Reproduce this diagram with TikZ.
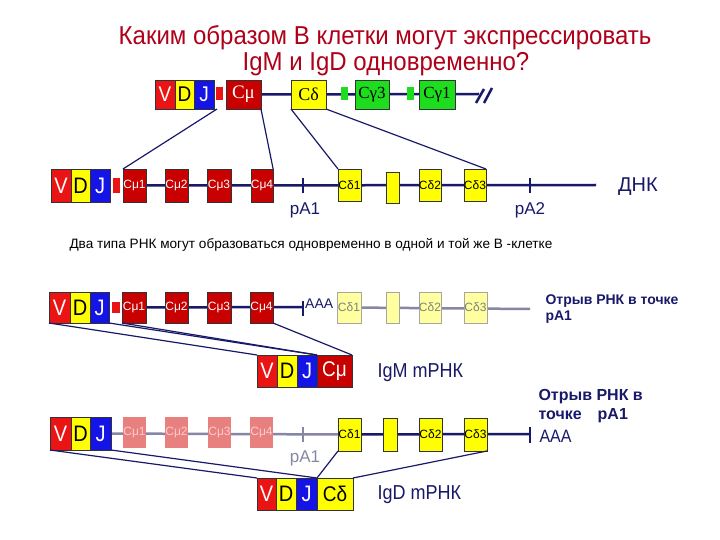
\documentclass[tikz,border=0pt]{standalone}
\usepackage{fontspec}
\setmainfont{Liberation Sans}
\newfontfamily\seriffam{Liberation Serif}
\usetikzlibrary{backgrounds}
\newcommand\myfs[1]{\fontsize{#1}{#1}\selectfont}
\newcommand\tall[1]{\scalebox{1}[1.12]{#1}}
\definecolor{navy}{RGB}{25,25,105}
\definecolor{vred}{RGB}{235,20,20}
\definecolor{cred}{RGB}{200,0,0}
\definecolor{yel}{RGB}{255,255,0}
\definecolor{blu}{RGB}{20,20,230}
\definecolor{grn}{RGB}{30,220,30}
\definecolor{titlered}{RGB}{175,0,25}
\definecolor{lyel}{RGB}{255,255,160}
\definecolor{fred}{RGB}{232,128,128}
\definecolor{gline}{RGB}{135,135,165}
\tikzset{
  bx/.style={draw=black!80, line width=0.5pt, inner sep=0pt, outer sep=0pt},
  sz/.style 2 args={minimum width=#1, minimum height=#2},
  vbox/.style={bx, fill=vred, text=white},
  dbox/.style={bx, fill=yel, text=black},
  jbox/.style={bx, fill=blu, text=white},
  cbox/.style={bx, fill=cred, text=white},
  gbox/.style={bx, fill=grn, text=black},
  lybox/.style={bx, fill=lyel, draw=black!35, text=black!50},
  fbox/.style={bx, fill=fred, draw=none, text=red!20},
  sqbox/.style={bx, draw=none},
  dna/.style={navy, line width=2.5pt},
  gdna/.style={gline, line width=2.5pt},
  tickl/.style={navy, line width=2.8pt},
  gtick/.style={gline, line width=2.5pt},
  conn/.style={navy, line width=1.2pt},
  small/.style={font=\myfs{12}},
  vdj/.style={font=\myfs{20}},
  lbl/.style={text=navy},
}
\begin{document}
\begin{tikzpicture}[x=1pt,y=-1pt]
\useasboundingbox (0,0) rectangle (720,540);

% Title
\node[font=\myfs{24}, text=titlered] (title1) at (385,38) {\scalebox{1}[1.08]{Каким образом В клетки могут экспрессировать}};
\node[font=\myfs{24}, text=titlered] (title2) at (386,64) {\scalebox{1}[1.08]{IgM и IgD одновременно?}};

% Row 1 (germline heavy chain)
\node[vbox, sz={20}{29}, font=\myfs{19}] (tV) at (165,94.5) {\tall{V}};
\node[dbox, sz={19}{29}, font=\myfs{19}] (tD) at (184.5,94.5) {\tall{D}};
\node[jbox, sz={20}{29}, font=\myfs{19}] (tJ) at (204,94.5) {\tall{J}};
\node[sqbox, fill=vred, sz={7}{13}] (tsq) at (219.5,93.5) {};
\node[cbox, sz={35}{29}, font=\seriffam\myfs{19}] (tCm) at (243.5,94.5) {Cμ};
\node[dbox, sz={35}{29}, font=\seriffam\myfs{18}] (tCd) at (308.5,94.5) {Cδ};
\node[sqbox, fill=grn, sz={7}{13}] (tg1) at (344.5,94) {};
\node[gbox, sz={34}{29}, font=\seriffam\myfs{17}] (tCg3) at (372,94.5) {Cγ3};
\node[sqbox, fill=grn, sz={7}{13}] (tg2) at (410.5,94) {};
\node[gbox, sz={36}{29}, font=\seriffam\myfs{17}] (tCg1) at (437,94.5) {Cγ1};
\coordinate (tend) at (479,94);
\draw[navy, line width=2.5pt] (476,103) -- (484,89) (484,103) -- (492,88);

% Row 2 (DNA)
\node[vbox, sz={20}{33}, vdj] (dV) at (61,185.5) {\tall{V}};
\node[dbox, sz={19}{33}, vdj] (dD) at (80.5,185.5) {\tall{D}};
\node[jbox, sz={20}{33}, vdj] (dJ) at (100,185.5) {\tall{J}};
\node[sqbox, fill=vred, sz={7}{15}] (dsq) at (116.5,185.5) {};
\node[cbox, sz={23}{33}, small] (dCm1) at (134.5,185.5) {Cμ1};
\node[cbox, sz={23}{33}, small] (dCm2) at (176.5,185.5) {Cμ2};
\node[cbox, sz={24}{33}, small] (dCm3) at (219,185.5) {Cμ3};
\node[cbox, sz={22}{33}, small] (dCm4) at (262,185.5) {Cμ4};
\coordinate (dp1t) at (303,178);
\coordinate (dp1b) at (303,193);
\node[lbl, font=\myfs{17}] (dpA1) at (305,210) {pA1};
\node[dbox, sz={23}{32}, small] (dCd1) at (349.5,185) {Cδ1};
\node[dbox, sz={13}{31}] (dX) at (392.5,187.5) {};
\node[dbox, sz={22}{32}, small] (dCd2) at (430,185) {Cδ2};
\node[dbox, sz={22}{32}, small] (dCd3) at (475,185) {Cδ3};
\coordinate (dp2t) at (530,178);
\coordinate (dp2b) at (530,193);
\node[lbl, font=\myfs{17}] (dpA2) at (530,210) {pA2};
\coordinate (dend) at (596,185);
\node[lbl, font=\myfs{20}] (dnk) at (638,187) {ДНК};
\draw[tickl] (dp1t) -- (dp1b);
\draw[tickl] (dp2t) -- (dp2b);

% connectors row1 -> row2
\draw[conn] ([xshift=3pt]tJ.south east) -- (dCm1.north west);
\draw[conn] (tCm.south east) -- (dCm4.north east);
\draw[conn] (tCd.south west) -- (dCd1.north west);
\draw[conn] (tCd.south east) -- (dCd3.north east);

% Middle sentence
\node[anchor=west, font=\myfs{13.6}] (sent) at (66,245) {Два типа РНК могут образоваться одновременно в одной и той же В -клетке};

% Row 3 (IgM transcript)
\node[vbox, sz={21}{31}, vdj] (mV) at (59.5,307.5) {\tall{V}};
\node[dbox, sz={20}{31}, vdj] (mD) at (80,307.5) {\tall{D}};
\node[jbox, sz={19}{31}, vdj] (mJ) at (99.5,307.5) {\tall{J}};
\node[sqbox, fill=vred, sz={8}{11}] (msq) at (116,307.5) {};
\node[cbox, sz={24}{31}, small] (mCm1) at (134,307.5) {Cμ1};
\node[cbox, sz={23}{31}, small] (mCm2) at (176.5,307.5) {Cμ2};
\node[cbox, sz={24}{31}, small] (mCm3) at (219,307.5) {Cμ3};
\node[cbox, sz={23}{31}, small] (mCm4) at (261.5,307.5) {Cμ4};
\coordinate (mpt) at (303,301);
\coordinate (mpb) at (303,316);
\coordinate (mpm) at (303,307);
\node[lbl, anchor=west, font=\myfs{14}, inner sep=0pt] (mAAA) at (305,304) {AAA};
\node[lybox, sz={24}{31}, small] (mCd1) at (349,307.5) {Cδ1};
\node[lybox, sz={13}{31}] (mX) at (392.5,307.5) {};
\node[lybox, sz={22}{31}, small] (mCd2) at (430,307.5) {Cδ2};
\node[lybox, sz={23}{31}, small] (mCd3) at (475.5,307.5) {Cδ3};
\coordinate (mend) at (530,309);
\node[lbl, anchor=west, align=left, font=\bfseries\fontsize{14}{16}\selectfont] (mnote) at (542,309) {Отрыв РНК в точке\\pA1};
\draw[tickl] (mpt) -- (mpb);

% IgM mRNA
\node[vbox, sz={20}{32}, vdj] (iV) at (267,371) {\tall{V}};
\node[dbox, sz={20}{32}, vdj] (iD) at (287,371) {\tall{D}};
\node[jbox, sz={20}{32}, vdj] (iJ) at (307,371) {\tall{J}};
\node[cbox, sz={35}{32}, font=\myfs{19}] (iCm) at (334.5,371) {\tall{Cμ}};
\node[lbl, anchor=west, font=\myfs{18}] (igm) at (374,373) {\tall{IgM mРНК}};

\draw[conn] (mV.south west) -- (iV.north west);
\draw[conn] (mJ.south east) -- (iJ.north east);
\draw[conn] (mCm1.south west) -- (iCm.north west);
\draw[conn] (mCm4.south east) -- (iCm.north east);

% Row 4 (IgD transcript)
\node[vbox, sz={21}{33}, vdj] (bV) at (60.5,433.5) {\tall{V}};
\node[dbox, sz={19}{33}, vdj] (bD) at (80.5,433.5) {\tall{D}};
\node[jbox, sz={21}{33}, vdj] (bJ) at (100.5,433.5) {\tall{J}};
\node[fbox, sz={23}{31}, small] (bCm1) at (134.5,432.5) {Cμ1};
\node[fbox, sz={23}{31}, small] (bCm2) at (176.5,432.5) {Cμ2};
\node[fbox, sz={23}{31}, small] (bCm3) at (219.5,432.5) {Cμ3};
\node[fbox, sz={23}{31}, small] (bCm4) at (261.5,432.5) {Cμ4};
\coordinate (bpt) at (303,427);
\coordinate (bpb) at (303,442);
\node[text=gline, font=\myfs{17}] (bpA1) at (305,458) {pA1};
\node[dbox, sz={23}{33}, small] (bCd1) at (349.5,434.5) {Cδ1};
\node[dbox, sz={14}{33}] (bX) at (390.5,434.5) {};
\node[dbox, sz={23}{33}, small] (bCd2) at (430.5,434.5) {Cδ2};
\node[dbox, sz={23}{33}, small] (bCd3) at (475.5,434.5) {Cδ3};
\coordinate (bet) at (530,427);
\coordinate (beb) at (530,443);
\coordinate (bend) at (530,434);
\node[lbl, anchor=west, font=\myfs{16}] (bAAA) at (536,436) {\tall{AAA}};
\node[lbl, anchor=west, align=left, font=\bfseries\fontsize{16}{19}\selectfont] (bnote) at (535,406) {Отрыв РНК в\\точке\quad pA1};
\draw[gtick] (bpt) -- (bpb);
\draw[tickl] (bet) -- (beb);

% IgD mRNA
\node[vbox, sz={19}{32}, vdj] (jV) at (266.5,494) {\tall{V}};
\node[dbox, sz={20}{32}, vdj] (jD) at (286,494) {\tall{D}};
\node[jbox, sz={21}{32}, vdj] (jJ) at (306.5,494) {\tall{J}};
\node[dbox, sz={36}{32}, font=\myfs{19}] (jCd) at (335,494) {\tall{Cδ}};
\node[lbl, anchor=west, font=\myfs{18}] (igd) at (374,495) {\tall{IgD mРНК}};

\draw[conn] (bV.south west) -- (jV.north west);
\draw[conn] (bJ.south east) -- (jJ.north east);
\draw[conn] (bCd1.south west) -- (jCd.north west);
\draw[conn] (bCd3.south east) -- (jCd.north east);

% backbone lines
\begin{scope}[on background layer]
  \fill[white] (0,0) rectangle (720,540);
  \draw[dna] (tCm.center) -- (tend);
  \draw[dna] (dCm1.center) -- (dend);
  \draw[dna] (mCm1.center) -- (mpm);
  \draw[gdna] (mCd1.center) -- (mend);
  \draw[gdna] (bJ.center) -- (bCd1.center);
  \draw[dna] (bCd1.center) -- (bend);
\end{scope}
\end{tikzpicture}
\end{document}
